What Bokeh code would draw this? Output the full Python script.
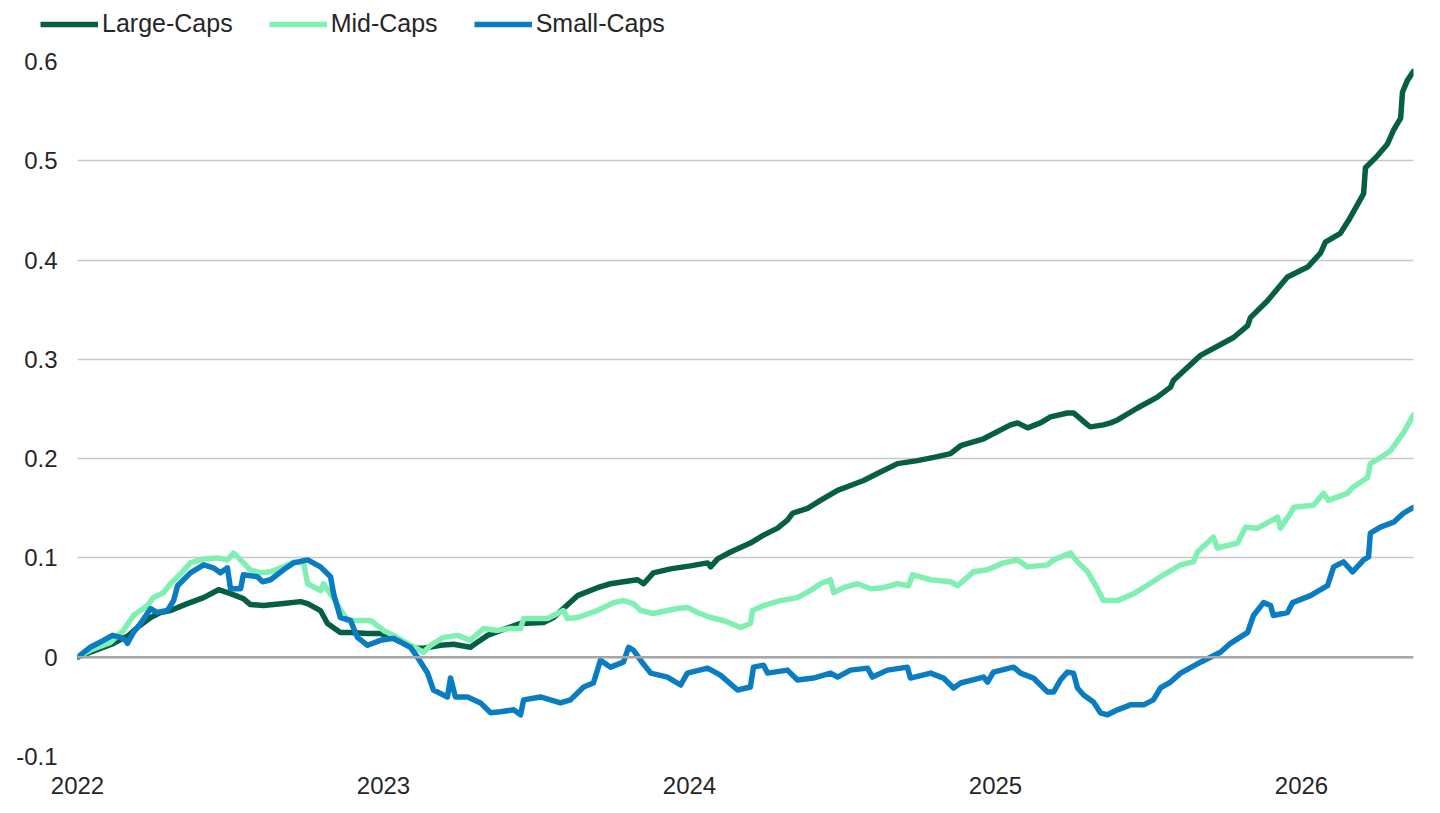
from bokeh.plotting import figure
from bokeh.layouts import column
from bokeh.models import FixedTicker, Span, Legend, LegendItem, Range1d, NumeralTickFormatter
from bokeh.embed import file_html
from bokeh.resources import INLINE

# Cumulative relative performance by size segment (decimal year, value)
large_year = [2022.000, 2022.042, 2022.118, 2022.167, 2022.196, 2022.239, 2022.271, 2022.304, 2022.359, 2022.412,
              2022.461, 2022.500, 2022.542, 2022.565, 2022.608, 2022.673, 2022.729, 2022.752, 2022.794, 2022.817,
              2022.859, 2022.892, 2022.948, 2022.990, 2023.023, 2023.065, 2023.098, 2023.131, 2023.186, 2023.229,
              2023.284, 2023.307, 2023.340, 2023.392, 2023.448, 2023.523, 2023.556, 2023.588, 2023.634, 2023.699,
              2023.742, 2023.784, 2023.830, 2023.850, 2023.882, 2023.938, 2024.003, 2024.059, 2024.069, 2024.092,
              2024.134, 2024.199, 2024.242, 2024.288, 2024.320, 2024.337, 2024.386, 2024.428, 2024.484, 2024.526,
              2024.569, 2024.614, 2024.680, 2024.745, 2024.810, 2024.853, 2024.886, 2024.961, 2025.049, 2025.072,
              2025.105, 2025.147, 2025.180, 2025.235, 2025.255, 2025.301, 2025.310, 2025.353, 2025.376, 2025.399,
              2025.464, 2025.529, 2025.572, 2025.582, 2025.670, 2025.778, 2025.824, 2025.833, 2025.889, 2025.954,
              2026.020, 2026.062, 2026.078, 2026.127, 2026.154, 2026.203, 2026.209, 2026.248, 2026.281, 2026.301,
              2026.324, 2026.330, 2026.346, 2026.366]
large_val = [0.000, 0.005, 0.014, 0.022, 0.030, 0.040, 0.045, 0.047, 0.054, 0.060,
             0.068, 0.064, 0.059, 0.053, 0.052, 0.054, 0.056, 0.054, 0.047, 0.034,
             0.025, 0.025, 0.024, 0.024, 0.020, 0.014, 0.009, 0.009, 0.012, 0.013,
             0.010, 0.015, 0.022, 0.028, 0.034, 0.035, 0.040, 0.049, 0.062, 0.070,
             0.074, 0.076, 0.078, 0.074, 0.085, 0.089, 0.092, 0.095, 0.091, 0.099,
             0.106, 0.115, 0.123, 0.130, 0.138, 0.145, 0.150, 0.158, 0.168, 0.173,
             0.178, 0.185, 0.195, 0.198, 0.202, 0.205, 0.213, 0.220, 0.234, 0.236,
             0.231, 0.236, 0.242, 0.246, 0.246, 0.234, 0.232, 0.234, 0.236, 0.239,
             0.251, 0.262, 0.272, 0.279, 0.304, 0.322, 0.334, 0.342, 0.359, 0.383,
             0.393, 0.407, 0.418, 0.427, 0.440, 0.467, 0.493, 0.505, 0.517, 0.531,
             0.543, 0.569, 0.581, 0.590]

mid_year = [2022.000, 2022.042, 2022.108, 2022.150, 2022.183, 2022.229, 2022.248, 2022.281, 2022.304, 2022.337,
            2022.369, 2022.412, 2022.458, 2022.490, 2022.510, 2022.533, 2022.565, 2022.598, 2022.631, 2022.673,
            2022.706, 2022.739, 2022.752, 2022.794, 2022.804, 2022.837, 2022.882, 2022.915, 2022.958, 2023.000,
            2023.033, 2023.088, 2023.131, 2023.154, 2023.196, 2023.242, 2023.284, 2023.327, 2023.373, 2023.415,
            2023.448, 2023.458, 2023.536, 2023.588, 2023.601, 2023.634, 2023.699, 2023.752, 2023.784, 2023.817,
            2023.840, 2023.882, 2023.928, 2023.961, 2023.993, 2024.026, 2024.069, 2024.111, 2024.167, 2024.199,
            2024.206, 2024.242, 2024.297, 2024.353, 2024.395, 2024.428, 2024.461, 2024.471, 2024.503, 2024.549,
            2024.592, 2024.634, 2024.680, 2024.716, 2024.729, 2024.788, 2024.853, 2024.876, 2024.928, 2024.974,
            2025.026, 2025.072, 2025.105, 2025.170, 2025.190, 2025.245, 2025.268, 2025.301, 2025.333, 2025.353,
            2025.399, 2025.451, 2025.484, 2025.549, 2025.605, 2025.647, 2025.660, 2025.712, 2025.725, 2025.791,
            2025.817, 2025.856, 2025.922, 2025.931, 2025.964, 2025.974, 2026.039, 2026.072, 2026.088, 2026.150,
            2026.167, 2026.216, 2026.225, 2026.258, 2026.291, 2026.333, 2026.366]
mid_val = [0.000, 0.007, 0.015, 0.027, 0.042, 0.052, 0.060, 0.065, 0.074, 0.084,
           0.095, 0.099, 0.100, 0.098, 0.105, 0.098, 0.088, 0.085, 0.086, 0.091,
           0.096, 0.095, 0.074, 0.067, 0.074, 0.059, 0.037, 0.037, 0.037, 0.027,
           0.022, 0.012, 0.005, 0.012, 0.020, 0.022, 0.017, 0.029, 0.027, 0.029,
           0.029, 0.039, 0.039, 0.047, 0.039, 0.040, 0.047, 0.055, 0.057, 0.054,
           0.047, 0.044, 0.047, 0.049, 0.050, 0.045, 0.040, 0.037, 0.030, 0.034,
           0.047, 0.052, 0.057, 0.060, 0.067, 0.074, 0.078, 0.065, 0.070, 0.074,
           0.069, 0.070, 0.074, 0.072, 0.083, 0.078, 0.076, 0.072, 0.086, 0.088,
           0.095, 0.098, 0.091, 0.093, 0.098, 0.105, 0.096, 0.086, 0.069, 0.057,
           0.057, 0.064, 0.070, 0.083, 0.093, 0.096, 0.106, 0.121, 0.110, 0.115,
           0.131, 0.130, 0.141, 0.130, 0.145, 0.151, 0.153, 0.165, 0.158, 0.165,
           0.171, 0.181, 0.195, 0.201, 0.208, 0.226, 0.244]

small_year = [2022.000, 2022.042, 2022.085, 2022.114, 2022.141, 2022.157, 2022.163, 2022.183, 2022.206, 2022.239,
              2022.261, 2022.294, 2022.314, 2022.327, 2022.369, 2022.412, 2022.444, 2022.467, 2022.490, 2022.500,
              2022.533, 2022.542, 2022.588, 2022.605, 2022.631, 2022.673, 2022.706, 2022.752, 2022.794, 2022.827,
              2022.837, 2022.859, 2022.892, 2022.915, 2022.948, 2022.990, 2023.033, 2023.088, 2023.111, 2023.144,
              2023.163, 2023.209, 2023.219, 2023.235, 2023.275, 2023.317, 2023.350, 2023.382, 2023.425, 2023.448,
              2023.458, 2023.513, 2023.578, 2023.611, 2023.654, 2023.686, 2023.709, 2023.742, 2023.784, 2023.801,
              2023.817, 2023.840, 2023.873, 2023.928, 2023.971, 2023.993, 2024.059, 2024.101, 2024.157, 2024.199,
              2024.209, 2024.242, 2024.255, 2024.320, 2024.353, 2024.405, 2024.461, 2024.484, 2024.526, 2024.582,
              2024.598, 2024.647, 2024.712, 2024.722, 2024.788, 2024.830, 2024.863, 2024.886, 2024.961, 2024.974,
              2024.993, 2025.059, 2025.082, 2025.124, 2025.170, 2025.190, 2025.212, 2025.235, 2025.255, 2025.268,
              2025.288, 2025.320, 2025.343, 2025.366, 2025.399, 2025.441, 2025.484, 2025.516, 2025.539, 2025.572,
              2025.605, 2025.670, 2025.735, 2025.768, 2025.824, 2025.843, 2025.876, 2025.899, 2025.908, 2025.954,
              2025.971, 2026.029, 2026.085, 2026.105, 2026.137, 2026.167, 2026.203, 2026.219, 2026.225, 2026.258,
              2026.301, 2026.333, 2026.366]
small_val = [0.000, 0.010, 0.017, 0.022, 0.020, 0.017, 0.014, 0.025, 0.034, 0.049,
             0.045, 0.047, 0.057, 0.072, 0.085, 0.093, 0.090, 0.085, 0.090, 0.069,
             0.069, 0.083, 0.081, 0.076, 0.078, 0.088, 0.095, 0.098, 0.091, 0.081,
             0.064, 0.040, 0.037, 0.020, 0.012, 0.017, 0.019, 0.010, 0.000, -0.016,
             -0.033, -0.040, -0.021, -0.040, -0.040, -0.046, -0.056, -0.055, -0.053, -0.058,
             -0.043, -0.040, -0.046, -0.043, -0.030, -0.026, -0.003, -0.010, -0.005, 0.010,
             0.007, -0.003, -0.016, -0.020, -0.028, -0.016, -0.011, -0.018, -0.033, -0.030,
             -0.010, -0.008, -0.016, -0.013, -0.023, -0.021, -0.016, -0.020, -0.013, -0.011,
             -0.020, -0.013, -0.010, -0.021, -0.016, -0.021, -0.031, -0.026, -0.020, -0.025,
             -0.015, -0.010, -0.016, -0.021, -0.035, -0.035, -0.023, -0.015, -0.016, -0.031,
             -0.038, -0.045, -0.056, -0.058, -0.053, -0.048, -0.048, -0.043, -0.031, -0.025,
             -0.016, -0.005, 0.005, 0.014, 0.025, 0.042, 0.055, 0.052, 0.042, 0.045,
             0.055, 0.062, 0.072, 0.091, 0.096, 0.086, 0.098, 0.101, 0.125, 0.131,
             0.136, 0.145, 0.151]

series_names = ["Large-Caps", "Mid-Caps", "Small-Caps"]
series_colors = ["#065E44", "#7FEFB2", "#0A7CC1"]
year_ticks = [2022, 2023, 2024, 2025, 2026]
value_ticks = [-0.1, 0.0, 0.1, 0.2, 0.3, 0.4, 0.5, 0.6]

series = [(large_year, large_val), (mid_year, mid_val), (small_year, small_val)]

FONT = "Liberation Sans"
TEXT_COLOR = "#262626"
LINE_W = 5.5

# --- main chart -------------------------------------------------------------
p = figure(width=1440, height=768, output_backend="svg", toolbar_location=None,
           x_range=Range1d(2022, large_year[-1]), y_range=Range1d(-0.1, 0.6),
           min_border_left=77, min_border_right=27, min_border_top=16, min_border_bottom=57)
p.frame_align = False
p.outline_line_color = None
p.background_fill_color = "white"
p.border_fill_color = "white"

# Gridlines: light horizontal rules, none vertical
p.xgrid.grid_line_color = None
p.ygrid.ticker = FixedTicker(ticks=value_ticks)
p.ygrid.grid_line_color = "#C8C8C8"
p.ygrid.grid_line_width = 1.6

p.add_layout(Span(location=0, dimension="width", line_color="#A6A6A6", line_width=2.6))

for ax in (p.xaxis[0], p.yaxis[0]):
    ax.axis_line_color = None
    ax.major_tick_line_color = None
    ax.minor_tick_line_color = None
    ax.major_label_text_font = FONT
    ax.major_label_text_font_size = "24px"
    ax.major_label_text_color = TEXT_COLOR

p.xaxis.ticker = FixedTicker(ticks=year_ticks)
p.xaxis.major_label_standoff = 14
p.yaxis.ticker = FixedTicker(ticks=value_ticks)
p.yaxis.formatter = NumeralTickFormatter(format="0.[0]")
p.yaxis.major_label_standoff = 14

for (xs, ys), color in zip(series, series_colors):
    p.line(xs, ys, line_color=color, line_width=LINE_W, line_join="round", line_cap="round")

# --- legend strip above the chart -------------------------------------------
# The strip's own view window lies outside the series' extent, so only the
# legend keys are visible here.
lg = figure(width=1440, height=45, output_backend="svg", toolbar_location=None,
            x_range=Range1d(0, 1), y_range=Range1d(0, 1),
            x_axis_type=None, y_axis_type=None,
            min_border_left=0, min_border_right=0, min_border_top=0, min_border_bottom=0)
lg.frame_align = False
lg.outline_line_color = None
lg.xgrid.grid_line_color = None
lg.ygrid.grid_line_color = None
lg.background_fill_color = "white"
lg.border_fill_color = "white"

keys = [lg.line(xs, ys, line_color=c, line_width=LINE_W, line_cap="butt")
        for (xs, ys), c in zip(series, series_colors)]
legend = Legend(items=[LegendItem(label=n, renderers=[r]) for n, r in zip(series_names, keys)],
                orientation="horizontal", location=(40, 7),
                border_line_color=None, background_fill_alpha=0,
                padding=0, margin=0, spacing=36,
                glyph_width=58, glyph_height=24, label_standoff=4,
                label_text_font=FONT, label_text_font_size="25px", label_text_color=TEXT_COLOR)
lg.add_layout(legend)

layout = column(lg, p, spacing=0)
open("out.html", "w").write(file_html(layout, INLINE))
